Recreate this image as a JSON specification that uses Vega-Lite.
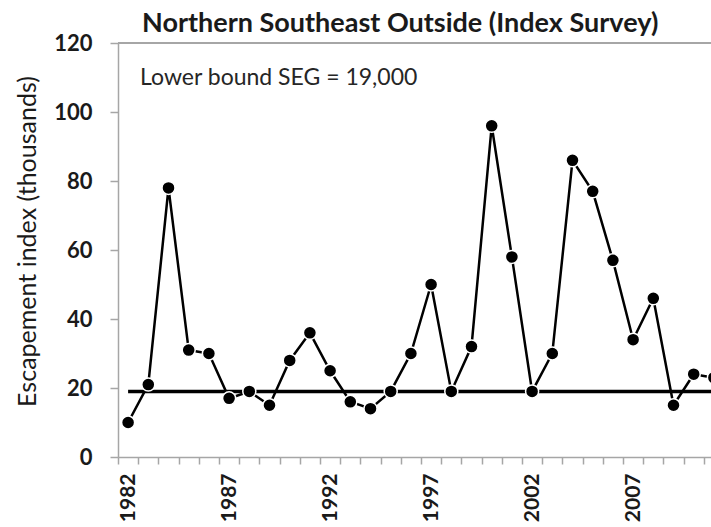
{
  "$schema": "https://vega.github.io/schema/vega-lite/v6.json",
  "autosize": {"type": "none"},
  "padding": {"left": 118, "top": 43, "right": 0, "bottom": 70},
  "width": 606,
  "height": 414,
  "background": "white",
  "config": {"view": {"stroke": null}, "font": "Lato"},
  "title": {"text": "Northern Southeast Outside (Index Survey)", "font": "Lato", "fontSize": 27, "fontWeight": "bold", "color": "#1a1a1a", "anchor": "start", "frame": "group", "dx": 24, "dy": 15, "offset": 9},
  "data": {"values": [
    {"year": 1982, "esc": 10, "seg": 19},
    {"year": 1983, "esc": 21, "seg": 19},
    {"year": 1984, "esc": 78, "seg": 19},
    {"year": 1985, "esc": 31, "seg": 19},
    {"year": 1986, "esc": 30, "seg": 19},
    {"year": 1987, "esc": 17, "seg": 19},
    {"year": 1988, "esc": 19, "seg": 19},
    {"year": 1989, "esc": 15, "seg": 19},
    {"year": 1990, "esc": 28, "seg": 19},
    {"year": 1991, "esc": 36, "seg": 19},
    {"year": 1992, "esc": 25, "seg": 19},
    {"year": 1993, "esc": 16, "seg": 19},
    {"year": 1994, "esc": 14, "seg": 19},
    {"year": 1995, "esc": 19, "seg": 19},
    {"year": 1996, "esc": 30, "seg": 19},
    {"year": 1997, "esc": 50, "seg": 19},
    {"year": 1998, "esc": 19, "seg": 19},
    {"year": 1999, "esc": 32, "seg": 19},
    {"year": 2000, "esc": 96, "seg": 19},
    {"year": 2001, "esc": 58, "seg": 19},
    {"year": 2002, "esc": 19, "seg": 19},
    {"year": 2003, "esc": 30, "seg": 19},
    {"year": 2004, "esc": 86, "seg": 19},
    {"year": 2005, "esc": 77, "seg": 19},
    {"year": 2006, "esc": 57, "seg": 19},
    {"year": 2007, "esc": 34, "seg": 19},
    {"year": 2008, "esc": 46, "seg": 19},
    {"year": 2009, "esc": 15, "seg": 19},
    {"year": 2010, "esc": 24, "seg": 19},
    {"year": 2011, "esc": 23, "seg": 19}
  ]},
  "encoding": {
    "x": {"field": "year", "type": "ordinal",
      "scale": {"type": "band", "paddingInner": 0, "paddingOuter": 0},
      "axis": {"title": null, "labelAngle": 270, "labelFont": "Lato", "labelFontSize": 21, "labelFontWeight": "bold", "labelColor": "#1a1a1a",
        "labelExpr": "(datum.value - 1982) % 5 == 0 ? datum.label : ''",
        "tickBand": "extent", "tickSize": 7, "tickColor": "#a6a6a6", "tickWidth": 1.5, "domainColor": "#a6a6a6", "domainWidth": 1.5, "labelPadding": 9, "labelOverlap": false, "labelBaseline": "middle", "labelAlign": "right"}}
  },
  "layer": [
    {"mark": {"type": "rule", "color": "#a6a6a6", "strokeWidth": 2},
     "encoding": {"y": {"datum": 120}, "x": null}},
    {"mark": {"type": "line", "color": "black", "strokeWidth": 3.5},
     "encoding": {"y": {"field": "seg", "type": "quantitative"}}},
    {"mark": {"type": "line", "color": "black", "strokeWidth": 2.5},
     "encoding": {"y": {"field": "esc", "type": "quantitative",
        "scale": {"domain": [0, 120], "nice": false},
        "axis": {"title": "Escapement index (thousands)", "titleFont": "Lato", "titleFontSize": 25, "titleFontWeight": "normal", "titleColor": "#1a1a1a", "titlePadding": 13, "titleY": 198,
          "values": [0, 20, 40, 60, 80, 100, 120], "grid": false, "labelFont": "Lato", "labelFontSize": 22, "labelFontWeight": "bold", "labelColor": "#1a1a1a",
          "tickSize": 8, "tickColor": "#a6a6a6", "tickWidth": 1.5, "domainColor": "#a6a6a6", "domainWidth": 1.5, "labelPadding": 18}}}},
    {"mark": {"type": "point", "filled": true, "color": "black", "size": 170, "stroke": "white", "strokeWidth": 1.5, "opacity": 1},
     "encoding": {"y": {"field": "esc", "type": "quantitative"}}},
    {"data": {"values": [{"label": "Lower bound SEG = 19,000"}]},
     "mark": {"type": "text", "font": "Lato", "fontSize": 23, "fontWeight": "normal", "color": "#262626", "align": "left", "baseline": "middle", "dx": 12},
     "encoding": {"text": {"field": "label"}, "x": {"datum": 1982}, "y": {"datum": 110}}}
  ]
}
